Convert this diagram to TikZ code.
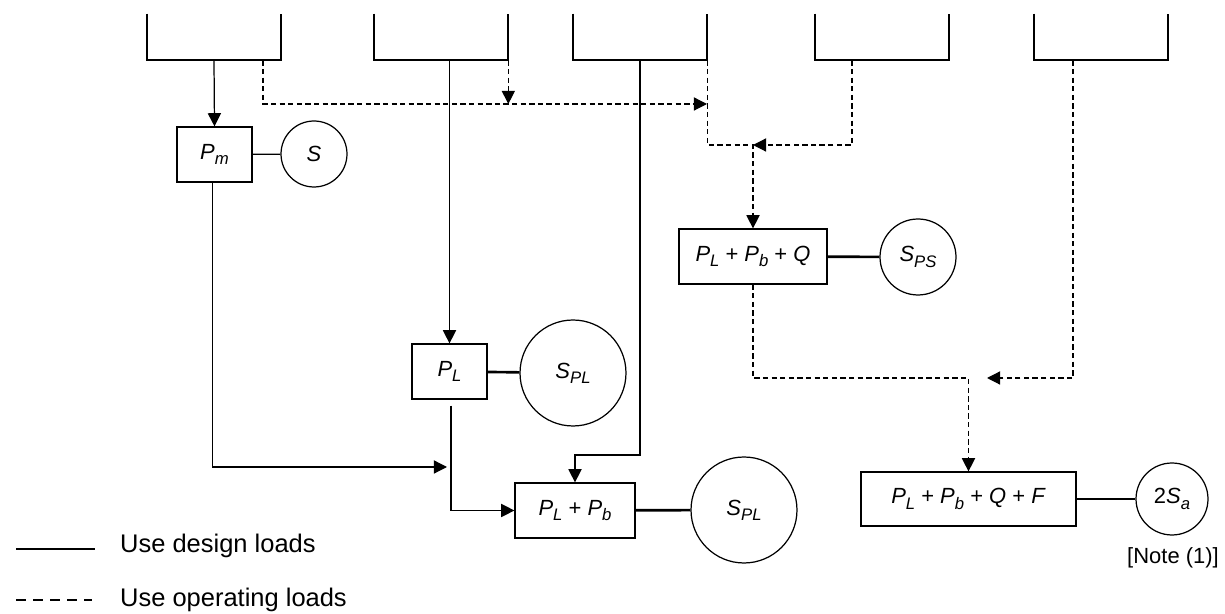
\documentclass[tikz,border=0pt]{standalone}
\usepackage{fontspec}
\setmainfont{Liberation Sans}
\usetikzlibrary{arrows.meta,calc}
\newcommand{\load}[2]{\textit{#1}\raisebox{-0.45ex}{\fontsize{9.5}{10}\selectfont\textit{#2}}}

\begin{document}
\begin{tikzpicture}[x=0.02cm, y=-0.02cm, >={Triangle[length=7.5pt,width=7.5pt]}, every node/.style={font=\fontsize{12.5}{14}\selectfont, align=center}, holder/.style={minimum width=2.68cm, minimum height=0.92cm, inner sep=0pt}, loadbox/.style={draw, line width=0.7pt, minimum height=1.1cm, inner sep=2pt}, stressnode/.style={draw, circle, line width=0.7pt, inner sep=0pt}, rim/.style={line width=1.3pt}, design/.style={line width=0.7pt}, operating/.style={line width=0.7pt, dash pattern=on 3pt off 1.9pt}, heavy/.style={line width=1.5pt}, legendtext/.style={anchor=west, font=\fontsize{14.5}{16}\selectfont}]
        \useasboundingbox (0,0) rectangle (1225,614);
        \node[holder] (b1) at (214,37) {};
        \node[holder] (b2) at (441,37) {};
        \node[holder] (b3) at (640,37) {};
        \node[holder] (b4) at (882,37) {};
        \node[holder] (b5) at (1101,37) {};
        \foreach \b in {b1,b2,b3,b4,b5}
            \draw[rim] (\b.north west) |- (\b.south east) -- (\b.north east);
        \node[loadbox, minimum width=1.5cm] (pm) at (214.5,154.5) {\load{P}{m}};
        \node[stressnode, minimum size=1.32cm] (s) at (314,154) {\textit{S}};
        \node[loadbox, minimum width=1.5cm] (pl) at (449.5,371.5) {\load{P}{L}};
        \node[stressnode, minimum size=2.12cm] (spl) at (573,373) {\load{S}{PL}};
        \node[loadbox, minimum width=2.4cm] (plpb) at (575,510.5) {\load{P}{L} + \load{P}{b}};
        \node[stressnode, minimum size=2.12cm] (splb) at (744,510) {\load{S}{PL}};
        \node[loadbox, minimum width=2.96cm] (plpbq) at (753,256.5) {\load{P}{L} + \load{P}{b} + \textit{Q}};
        \node[stressnode, minimum size=1.52cm] (sps) at (918,257) {\load{S}{PS}};
        \node[loadbox, minimum width=4.3cm, minimum height=1.08cm] (plpbqf) at (968.5,499) {\load{P}{L} + \load{P}{b} + \textit{Q} + \textit{F}};
        \node[stressnode, minimum size=1.44cm] (twosa) at (1172,499) {2\load{S}{a}};
        \node (note) at (1173,558) {[Note (1)]};
        \coordinate (j1) at (707,104);
        \coordinate (j2) at (753,145);
        \coordinate (j3) at (447,467);
        \coordinate (j4) at (987,378);
        \draw[design, ->] (b1.south) -- (pm.north);
        \draw[design, ->] (pl.north |- b2.south) -- (pl.north);
        \draw[design, ->] (b3.south) |- (plpb.north |- 0,455) -- (plpb.north);
        \draw[design, ->] ($(pm.south)+(-2,0)$) |- (j3);
        \draw[design, ->] ($(pl.south)+(1.5,6)$) |- (plpb.west);
        \draw[design] (pm) -- (s);
        \draw[heavy] (pl) -- (spl);
        \draw[heavy] (plpb) -- (splb);
        \draw[heavy] (plpbq) -- (sps);
        \draw[design] (plpbqf) -- (twosa);
        \draw[operating, ->] ($(b1.south)+(49,0)$) |- (j1);
        \draw[operating, ->] (b2.south east) -- (b2.south east |- j1);
        \draw[operating, ->] (b3.south east) |- (j2) -- (plpbq.north);
        \draw[operating, ->] ($(b4.south)+(-30,0)$) |- (j2);
        \draw[operating, ->] (plpbq.south) |- (plpbqf.north |- j4) -- (plpbqf.north);
        \draw[operating, ->] ($(b5.south)+(-28,0)$) |- (j4);
        \coordinate (ds) at (16,549);
        \coordinate (de) at (95,549);
        \coordinate (os) at (16,600);
        \coordinate (oe) at (92,600);
        \draw[design] (ds) -- (de);
        \draw[line width=0.7pt, dash pattern=on 5.5pt off 4.2pt] (os) -- (oe);
        \node[legendtext] (designtext) at (114,546) {Use design loads};
        \node[legendtext] (operatingtext) at (114,600) {Use operating loads};
    \end{tikzpicture}
\end{document}
